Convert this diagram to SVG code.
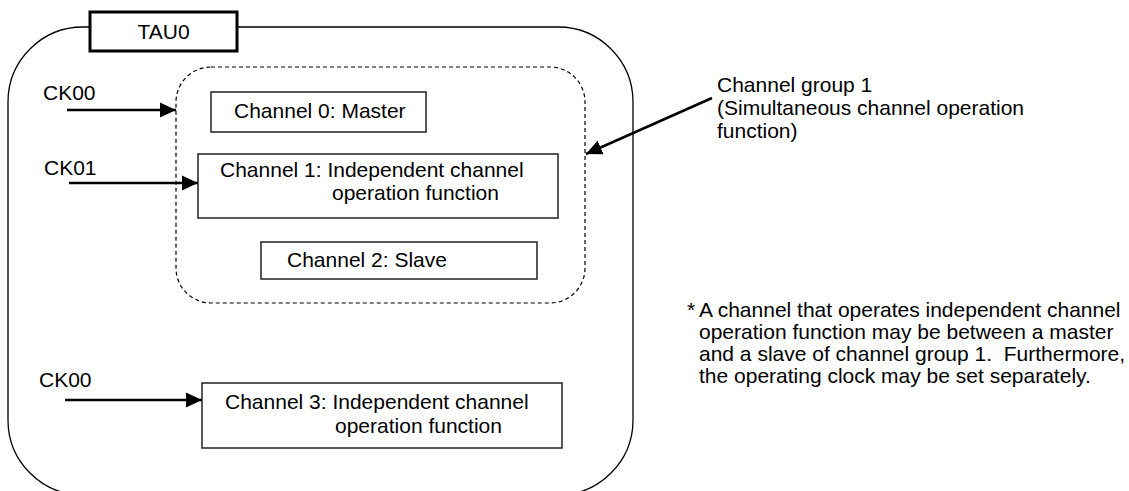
<svg xmlns="http://www.w3.org/2000/svg" width="1129" height="491" viewBox="0 0 1129 491">
<defs>
<style>
text{font-family:"Liberation Sans",Arial,sans-serif;font-size:21px;fill:#000;white-space:pre}
.box{fill:#fff;stroke:#222;stroke-width:1.5}
.conn{stroke:#000;stroke-width:2.5;fill:none}
</style>
<marker id="ah" markerUnits="userSpaceOnUse" markerWidth="17" markerHeight="16" viewBox="0 0 17 16" refX="16" refY="8" orient="auto">
<path d="M0,0.5 L16,8 L0,15.5 Z" fill="#000"/>
</marker>
</defs>
<rect width="1129" height="491" fill="#fff"/>
<g id="tau0">
<rect x="8" y="27" width="625" height="468" rx="75" ry="75" fill="none" stroke="#000" stroke-width="1.3"/>
<rect x="90" y="12" width="147" height="39" fill="#fff" stroke="#000" stroke-width="3"/>
<text x="163.5" y="39" text-anchor="middle">TAU0</text>
</g>
<g id="group1">
<rect x="176" y="67" width="409" height="236" rx="35" ry="35" fill="none" stroke="#000" stroke-width="1.2" stroke-dasharray="4,3"/>
</g>
<g id="ch0">
<rect class="box" x="211" y="92" width="215" height="40"/>
<text x="234" y="118">Channel 0: Master</text>
</g>
<g id="ch1">
<rect class="box" x="198" y="154" width="360" height="64"/>
<text x="220" y="177">Channel 1: Independent channel</text>
<text x="332" y="200">operation function</text>
</g>
<g id="ch2">
<rect class="box" x="261" y="242" width="276" height="37"/>
<text x="287" y="267">Channel 2: Slave</text>
</g>
<g id="ch3">
<rect class="box" x="202" y="383" width="360" height="65"/>
<text x="225" y="409">Channel 3: Independent channel</text>
<text x="335" y="433">operation function</text>
</g>
<g id="labels">
<text x="43" y="100">CK00</text>
<text x="44" y="175">CK01</text>
<text x="39" y="387">CK00</text>
<text x="717" y="92">Channel group 1</text>
<text x="717" y="115">(Simultaneous channel operation</text>
<text x="717" y="138">function)</text>
</g>
<g id="note">
<text x="687" y="317">*</text>
<text x="699" y="317">A channel that operates independent channel</text>
<text x="699" y="339">operation function may be between a master</text>
<text x="699" y="361" xml:space="preserve">and a slave of channel group 1.  Furthermore,</text>
<text x="699" y="383">the operating clock may be set separately.</text>
</g>
<g id="connectors">
<line class="conn" x1="67" y1="110" x2="176" y2="110" marker-end="url(#ah)"/>
<line class="conn" x1="69" y1="183" x2="198" y2="183" marker-end="url(#ah)"/>
<line class="conn" x1="65" y1="400" x2="202" y2="400" marker-end="url(#ah)"/>
<line class="conn" x1="712" y1="98" x2="586" y2="154" marker-end="url(#ah)"/>
</g>
</svg>
